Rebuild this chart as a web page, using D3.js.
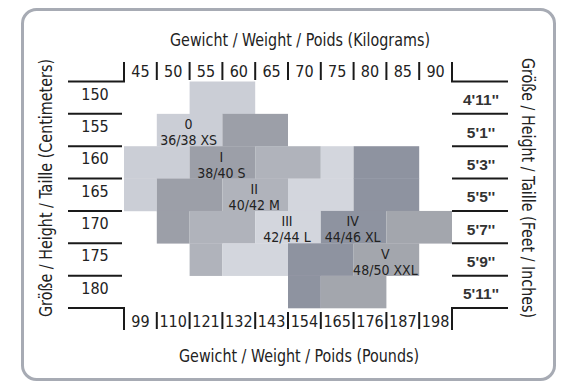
<!DOCTYPE html>
<html><head><meta charset="utf-8">
<script src="https://cdn.jsdelivr.net/npm/d3@7/dist/d3.min.js"></script>
<style>
html,body{margin:0;padding:0;background:#fff;}
svg{display:block;}
text{font-family:"Liberation Sans Narrow","Arial Narrow","DejaVu Sans Condensed",sans-serif;fill:#222;}
.bold{font-family:"Liberation Sans",Arial,sans-serif;font-weight:bold;fill:#333;}
</style></head>
<body>
<script>
// ---- data ----
const weightsKg = [45, 50, 55, 60, 65, 70, 75, 80, 85, 90];
const weightsLb = [99, 110, 121, 132, 143, 154, 165, 176, 187, 198];
const heightsCm = [150, 155, 160, 165, 170, 175, 180];
const heightsFt = ["4'11''", "5'1''", "5'3''", "5'5''", "5'7''", "5'9''", "5'11''"];
const sizeNumbers = ["0", "I", "II", "III", "IV", "V"];
const sizeLabels = ["36/38 XS", "38/40 S", "40/42 M", "42/44 L", "44/46 XL", "48/50 XXL"];
// spans per size: [height cm, from kg, to kg]
const size0 = [[150, 55, 60], [155, 50, 55], [160, 45, 50], [165, 45, 45]];
const size1 = [[155, 60, 65], [160, 55, 60], [165, 50, 55], [170, 50, 50]];
const size2 = [[160, 65, 70], [165, 60, 65], [170, 55, 60], [175, 55, 55]];
const size3 = [[160, 75, 75], [165, 70, 75], [170, 65, 70], [175, 60, 65]];
const size4 = [[160, 80, 85], [165, 80, 85], [170, 75, 80], [175, 70, 75], [180, 70, 70]];
const size5 = [[170, 85, 90], [175, 80, 85], [180, 75, 80]];
// where each size label sits: [height row, weight column whose right edge is the label centre]
const labelCells = [[155, 50], [160, 55], [165, 60], [170, 65], [170, 75], [175, 80]];
const titleTop = "Gewicht / Weight / Poids (Kilograms)";
const titleBottom = "Gewicht / Weight / Poids (Pounds)";
const titleLeft = "Größe / Height / Taille (Centimeters)";
const titleRight = "Größe / Height / Taille (Feet / Inches)";

const sizeSpans = [size0, size1, size2, size3, size4, size5];
const sizeColors = ["#cbced6", "#9c9fa8", "#b0b3bb", "#d3d6dd", "#8e93a0", "#a3a6ad"];

const W = 575, H = 392;
const svg = d3.select("body").append("svg").attr("width", W).attr("height", H);

// frame
svg.append("rect").attr("x", 22.5).attr("y", 9.5).attr("width", 532).attr("height", 370)
  .attr("rx", 14).attr("fill", "#fff").attr("stroke", "#a7abb4").attr("stroke-width", 3);

const x = d3.scaleBand().domain(weightsKg).range([124, 452]).padding(0);
const xLb = d3.scaleBand().domain(weightsLb).range([124, 452]).padding(0);
const y = d3.scaleBand().domain(heightsCm).range([81.5, 308]).padding(0);
const yFt = d3.scaleBand().domain(heightsFt).range([81.5, 308]).padding(0);

// cells
const cells = [];
sizeSpans.forEach((spans, si) => {
  spans.forEach(([h, a, b]) => {
    cells.push({si, h, a, b});
  });
});
svg.append("g").selectAll("rect").data(cells).join("rect")
  .attr("x", d => x(d.a))
  .attr("y", d => y(d.h))
  .attr("width", d => x(d.b) + x.bandwidth() - x(d.a))
  .attr("height", y.bandwidth() + 0.3)
  .attr("fill", d => sizeColors[d.si]);

// size labels
const lab = svg.append("g").selectAll("g").data(labelCells).join("g")
  .attr("transform", d => `translate(${x(d[1]) + x.bandwidth() - 1},${y(d[0])})`);
lab.append("text").attr("text-anchor", "middle").attr("y", 15.5).attr("font-size", 14)
  .text((d, i) => sizeNumbers[i]);
lab.append("text").attr("text-anchor", "middle").attr("y", 31.5).attr("font-size", 14)
  .text((d, i) => sizeLabels[i]);

const ink = "#1a1a1a";
// top axis
const topG = svg.append("g");
topG.append("path").attr("fill", "none").attr("stroke", ink).attr("stroke-width", 2)
  .attr("d", `M68,81.5H124V62`);
topG.append("path").attr("fill", "none").attr("stroke", ink).attr("stroke-width", 2)
  .attr("d", `M508,81.5H452V62`);
topG.selectAll("line").data(weightsKg.slice(1)).join("line")
  .attr("x1", d => x(d)).attr("x2", d => x(d)).attr("y1", 62).attr("y2", 80)
  .attr("stroke", ink).attr("stroke-width", 2);
topG.selectAll("text").data(weightsKg).join("text")
  .attr("x", d => x(d) + x.bandwidth() / 2).attr("y", 77).attr("text-anchor", "middle")
  .attr("font-size", 16).text(d => d);

// bottom axis
const botG = svg.append("g");
botG.append("path").attr("fill", "none").attr("stroke", ink).attr("stroke-width", 2)
  .attr("d", `M68,308H124V330`);
botG.append("path").attr("fill", "none").attr("stroke", ink).attr("stroke-width", 2)
  .attr("d", `M508,308H452V330`);
botG.selectAll("line").data(weightsLb.slice(1)).join("line")
  .attr("x1", d => xLb(d)).attr("x2", d => xLb(d)).attr("y1", 312).attr("y2", 329)
  .attr("stroke", ink).attr("stroke-width", 2);
botG.selectAll("text").data(weightsLb).join("text")
  .attr("x", d => xLb(d) + xLb.bandwidth() / 2).attr("y", 327).attr("text-anchor", "middle")
  .attr("font-size", 16).text(d => d);

// left axis (cm)
const leftG = svg.append("g");
leftG.selectAll("line").data(heightsCm.slice(1)).join("line")
  .attr("x1", 68).attr("x2", 122).attr("y1", d => y(d)).attr("y2", d => y(d))
  .attr("stroke", ink).attr("stroke-width", 2);
leftG.selectAll("text").data(heightsCm).join("text")
  .attr("x", 95).attr("y", d => y(d) + y.bandwidth() / 2 + 2).attr("text-anchor", "middle")
  .attr("font-size", 16).text(d => d);

// right axis (ft)
const rightG = svg.append("g");
rightG.selectAll("line").data(heightsFt.slice(1)).join("line")
  .attr("x1", 452).attr("x2", 508).attr("y1", d => yFt(d)).attr("y2", d => yFt(d))
  .attr("stroke", ink).attr("stroke-width", 2);
rightG.selectAll("text").data(heightsFt).join("text").attr("class", "bold")
  .attr("x", 481).attr("y", d => yFt(d) + yFt.bandwidth() / 2 + 7.5).attr("text-anchor", "middle")
  .attr("font-size", 15.5).text(d => d);

// titles
svg.append("text").attr("x", 300).attr("y", 46).attr("text-anchor", "middle").attr("font-size", 17)
  .attr("textLength", 260).attr("lengthAdjust", "spacingAndGlyphs").text(titleTop);
svg.append("text").attr("x", 299).attr("y", 362).attr("text-anchor", "middle").attr("font-size", 17)
  .attr("textLength", 240).attr("lengthAdjust", "spacingAndGlyphs").text(titleBottom);
svg.append("text").attr("transform", "translate(52,188) rotate(-90)").attr("text-anchor", "middle").attr("font-size", 17)
  .attr("textLength", 258).attr("lengthAdjust", "spacingAndGlyphs").text(titleLeft);
svg.append("text").attr("transform", "translate(522,188) rotate(90)").attr("text-anchor", "middle").attr("font-size", 17)
  .attr("textLength", 260).attr("lengthAdjust", "spacingAndGlyphs").text(titleRight);
</script>
</body></html>
